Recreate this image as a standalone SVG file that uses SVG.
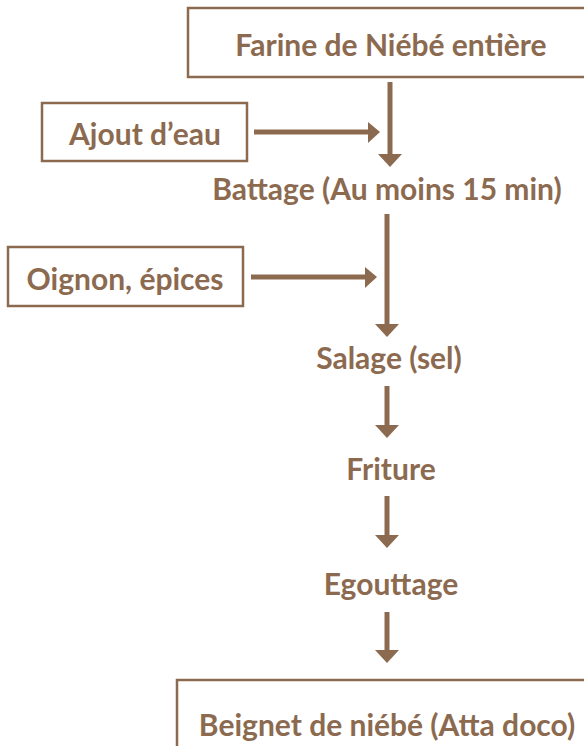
<svg xmlns="http://www.w3.org/2000/svg" width="584" height="746" viewBox="0 0 584 746">
<style>
.box{fill:#fff;stroke:#8c6a50;stroke-width:2.5}
.t{font-family:Lato,"Open Sans","DejaVu Sans",sans-serif;font-weight:bold;font-size:30px;fill:#8c6a50;text-anchor:middle}
.c{stroke:#8c6a50;stroke-width:5;fill:none}
.h{fill:#8c6a50}
</style>
<rect width="584" height="746" fill="#fff"/>
<g id="farine"><rect class="box" x="188" y="8" width="400" height="69"/><text class="t" x="391" y="56">Farine de Niébé entière</text></g>
<g id="ajout"><rect class="box" x="42" y="103" width="205" height="58"/><text class="t" x="145" y="145">Ajout d’eau</text></g>
<g id="battage"><text class="t" x="387" y="200">Battage (Au moins 15 min)</text></g>
<g id="oignon"><rect class="box" x="8" y="247" width="235" height="59"/><text class="t" x="125" y="290">Oignon, épices</text></g>
<g id="salage"><text class="t" x="389" y="369">Salage (sel)</text></g>
<g id="friture"><text class="t" x="391" y="480">Friture</text></g>
<g id="egouttage"><text class="t" x="391" y="595">Egouttage</text></g>
<g id="beignet"><rect class="box" x="177" y="680" width="420" height="80"/><text class="t" x="387" y="736">Beignet de niébé (Atta doco)</text></g>
<g id="connectors">
<line class="c" x1="390" y1="82" x2="390" y2="155"/><polygon class="h" points="378,154 402,154 390,167"/>
<line class="c" x1="254" y1="132" x2="369" y2="132"/><polygon class="h" points="368,122 380,132 368,143"/>
<line class="c" x1="387" y1="214" x2="387" y2="325"/><polygon class="h" points="375,324 399,324 387,337"/>
<line class="c" x1="251" y1="277" x2="366" y2="277"/><polygon class="h" points="365,267 377,277 365,288"/>
<line class="c" x1="387" y1="386" x2="387" y2="426"/><polygon class="h" points="375,425 399,425 387,438"/>
<line class="c" x1="387" y1="496" x2="387" y2="536"/><polygon class="h" points="375,535 399,535 387,548"/>
<line class="c" x1="387" y1="612" x2="387" y2="651"/><polygon class="h" points="375,650 399,650 387,663"/>
</g>
</svg>
